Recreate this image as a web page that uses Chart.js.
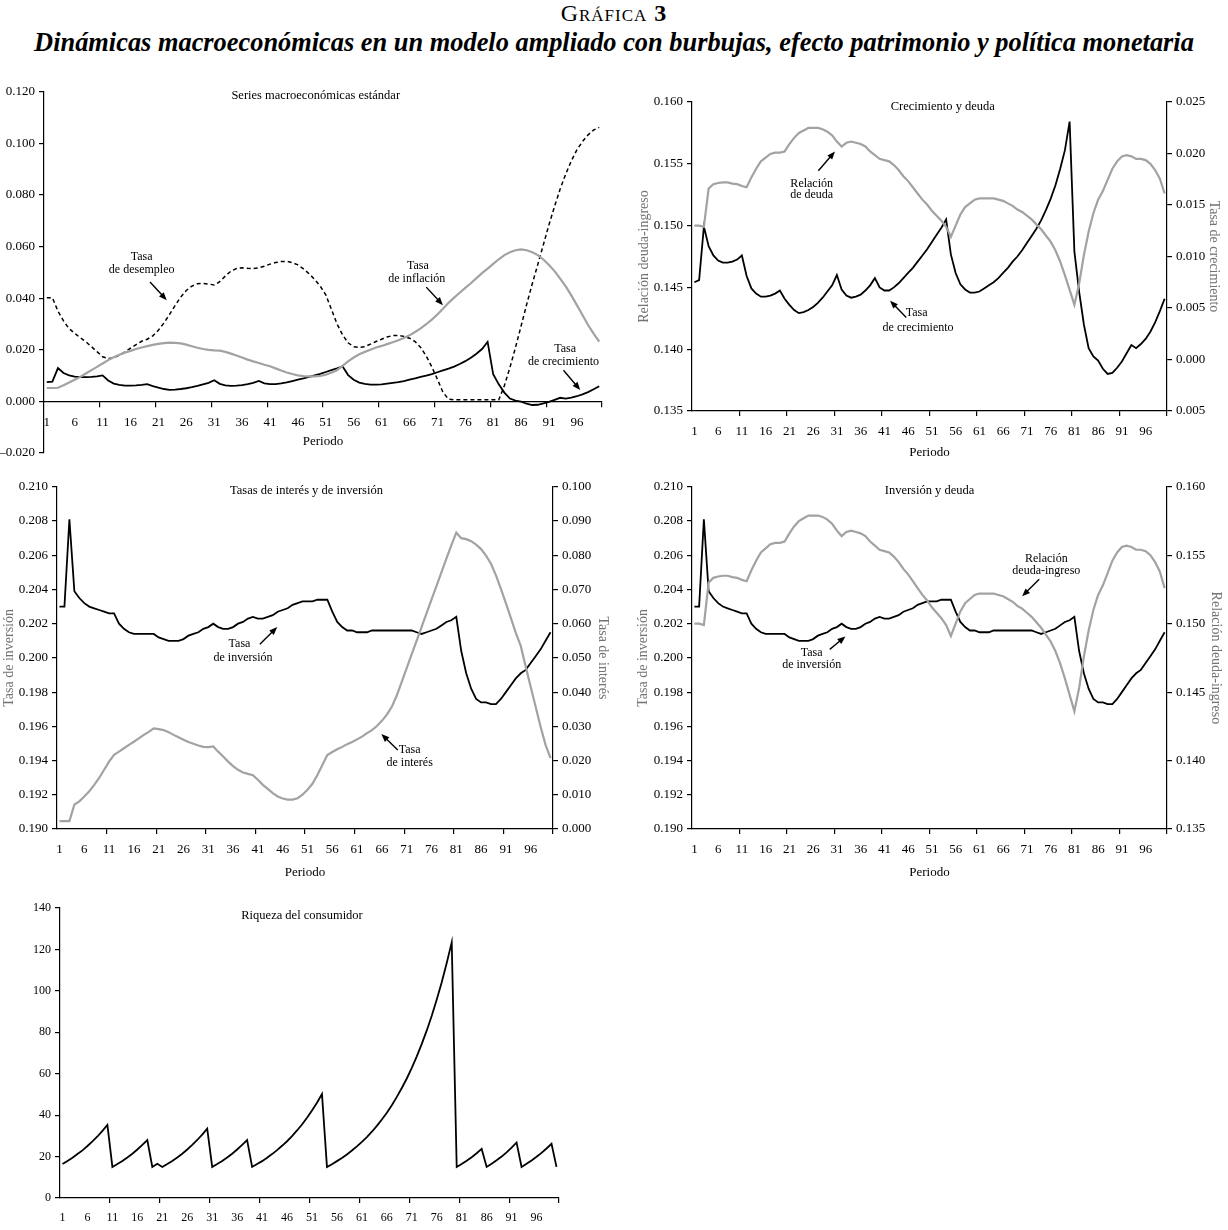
<!DOCTYPE html>
<html lang="es">
<head>
<meta charset="utf-8">
<title>Gráfica 3</title>
<script src="https://cdn.jsdelivr.net/npm/chart.js@4.4.1/dist/chart.umd.min.js"></script>
<style>
  body { margin: 0; background: #fff; }
  #page { position: relative; width: 1228px; height: 1230px; overflow: hidden; font-family: "Liberation Serif", serif; color: #000; }
  #page canvas { position: absolute; }
  #num { position: absolute; top: 0; left: 0; width: 1228px; text-align: center; font-size: 24px; line-height: 26px; font-variant: small-caps; letter-spacing: 1px; }
  #sub { position: absolute; top: 28px; left: 0; width: 1228px; text-align: center; font-size: 25px; line-height: 28px; font-style: italic; font-weight: bold; white-space: nowrap; }
</style>
</head>
<body>
<div id="page">
  <div id="num">Gráfica <b>3</b></div>
  <div id="sub"><span id="subText">Dinámicas macroeconómicas en un modelo ampliado con burbujas, efecto patrimonio y política monetaria</span></div>
  <canvas id="c1" width="620" height="385" style="left:0;top:80px"></canvas>
  <canvas id="c2" width="598" height="375" style="left:630px;top:90px"></canvas>
  <canvas id="c3" width="620" height="410" style="left:0;top:475px"></canvas>
  <canvas id="c4" width="598" height="410" style="left:630px;top:475px"></canvas>
  <canvas id="c5" width="600" height="335" style="left:0;top:895px"></canvas>
</div>
<script>
// periods 1..100, labels every 5, tick marks every 10 bands
const periods = Array.from({length: 100}, (_, i) => i + 1);
const xTickLabels = [1, 6, 11, 16, 21, 26, 31, 36, 41, 46, 51, 56, 61, 66, 71, 76, 81, 86, 91, 96];
const xTickMarks = [10.5, 20.5, 30.5, 40.5, 50.5, 60.5, 70.5, 80.5, 90.5, 100.5];

// y tick values
const macroTicks = [-0.02, 0, 0.02, 0.04, 0.06, 0.08, 0.10, 0.12];
const debtTicks = [0.135, 0.140, 0.145, 0.150, 0.155, 0.160];
const growthTicks = [-0.005, 0, 0.005, 0.010, 0.015, 0.020, 0.025];
const invTicks = [0.190, 0.192, 0.194, 0.196, 0.198, 0.200, 0.202, 0.204, 0.206, 0.208, 0.210];
const interestTicks = [0, 0.01, 0.02, 0.03, 0.04, 0.05, 0.06, 0.07, 0.08, 0.09, 0.10];
const wealthTicks = [0, 20, 40, 60, 80, 100, 120, 140];

// series
const unemployment = [
  0.0402, 0.0402, 0.0350, 0.0312, 0.0282, 0.0264, 0.0247, 0.0231, 0.0212, 0.0193,
  0.0173, 0.0166, 0.0169, 0.0179, 0.0192, 0.0206, 0.0220, 0.0233, 0.0241, 0.0254,
  0.0276, 0.0304, 0.0337, 0.0372, 0.0404, 0.0430, 0.0447, 0.0456, 0.0457, 0.0455,
  0.0451, 0.0464, 0.0486, 0.0505, 0.0515, 0.0518, 0.0516, 0.0515, 0.0518, 0.0524,
  0.0532, 0.0538, 0.0542, 0.0543, 0.0538, 0.0529, 0.0514, 0.0495, 0.0473, 0.0447,
  0.0413, 0.0357, 0.0301, 0.0258, 0.0227, 0.0212, 0.0209, 0.0212, 0.0222, 0.0232,
  0.0241, 0.0250, 0.0255, 0.0256, 0.0252, 0.0245, 0.0232, 0.0209, 0.0176, 0.0134,
  0.0086, 0.0035, 0.0009, 0.0006, 0.0006, 0.0006, 0.0006, 0.0006, 0.0006, 0.0006,
  0.0006, 0.0006, 0.0061, 0.0131, 0.0209, 0.0292, 0.0376, 0.0456, 0.0531, 0.0608,
  0.0685, 0.0756, 0.0823, 0.0881, 0.0932, 0.0975, 0.1007, 0.1033, 0.1052, 0.1062
];
const inflation = [
  0.0052, 0.0052, 0.0053, 0.0063, 0.0073, 0.0084, 0.0095, 0.0108, 0.0121, 0.0134,
  0.0147, 0.0160, 0.0171, 0.0181, 0.0189, 0.0196, 0.0203, 0.0209, 0.0214, 0.0219,
  0.0223, 0.0226, 0.0228, 0.0227, 0.0225, 0.0220, 0.0214, 0.0208, 0.0203, 0.0200,
  0.0198, 0.0197, 0.0192, 0.0185, 0.0178, 0.0170, 0.0162, 0.0155, 0.0149, 0.0142,
  0.0136, 0.0128, 0.0120, 0.0112, 0.0106, 0.0101, 0.0098, 0.0097, 0.0097, 0.0099,
  0.0104, 0.0111, 0.0121, 0.0138, 0.0155, 0.0170, 0.0183, 0.0192, 0.0200, 0.0209,
  0.0215, 0.0222, 0.0229, 0.0237, 0.0246, 0.0256, 0.0269, 0.0283, 0.0299, 0.0317,
  0.0337, 0.0359, 0.0382, 0.0402, 0.0421, 0.0440, 0.0458, 0.0478, 0.0497, 0.0515,
  0.0533, 0.0551, 0.0567, 0.0578, 0.0586, 0.0589, 0.0586, 0.0578, 0.0567, 0.0550,
  0.0529, 0.0505, 0.0476, 0.0446, 0.0411, 0.0373, 0.0335, 0.0296, 0.0263, 0.0232
];
const growth = [
  0.0075, 0.0077, 0.0129, 0.0110, 0.0101, 0.0096, 0.0094, 0.0094, 0.0095, 0.0097,
  0.0101, 0.0081, 0.0069, 0.0064, 0.0061, 0.0061, 0.0062, 0.0064, 0.0067, 0.0059,
  0.0053, 0.0048, 0.0045, 0.0046, 0.0048, 0.0051, 0.0055, 0.0060, 0.0066, 0.0072,
  0.0082, 0.0068, 0.0062, 0.0060, 0.0061, 0.0063, 0.0067, 0.0072, 0.0079, 0.0070,
  0.0067, 0.0067, 0.0070, 0.0074, 0.0079, 0.0084, 0.0089, 0.0095, 0.0101, 0.0107,
  0.0114, 0.0121, 0.0128, 0.0136, 0.0102, 0.0084, 0.0073, 0.0068, 0.0065, 0.0065,
  0.0066, 0.0069, 0.0072, 0.0075, 0.0079, 0.0084, 0.0089, 0.0095, 0.0100, 0.0106,
  0.0113, 0.0120, 0.0127, 0.0135, 0.0145, 0.0156, 0.0169, 0.0185, 0.0203, 0.0231,
  0.0105, 0.0066, 0.0034, 0.0011, 0.0003, -0.0001, -0.0009, -0.0014, -0.0013, -0.0008,
  -0.0002, 0.0006, 0.0014, 0.0011, 0.0015, 0.0020, 0.0027, 0.0036, 0.0047, 0.0059
];
const debtRatio = [
  0.1500, 0.1500, 0.1499, 0.1530, 0.15335, 0.15345, 0.1535, 0.1535, 0.1534, 0.15335,
  0.1532, 0.1531, 0.1539, 0.1546, 0.1552, 0.1555, 0.1558, 0.1559, 0.1559, 0.1560,
  0.1566, 0.1571, 0.1575, 0.1577, 0.1579, 0.1579, 0.1579, 0.1578, 0.1576, 0.1573,
  0.1568, 0.1564, 0.1567, 0.1568, 0.1567, 0.1566, 0.1564, 0.1560, 0.1557, 0.1554,
  0.1553, 0.1552, 0.1549, 0.1545, 0.1540, 0.1536, 0.1531, 0.1526, 0.1521, 0.1517,
  0.1512, 0.1508, 0.1504, 0.1499, 0.1491, 0.1500, 0.1509, 0.1515, 0.1518, 0.1521,
  0.1522, 0.1522, 0.1522, 0.1522, 0.1521, 0.1520, 0.1518, 0.1516, 0.1513, 0.1511,
  0.1508, 0.1505, 0.1501, 0.1497, 0.1492, 0.1487, 0.1480, 0.1471, 0.1460, 0.1448,
  0.1436, 0.1453, 0.1476, 0.1495, 0.1510, 0.1521, 0.1528, 0.1537, 0.1546, 0.1552,
  0.1556, 0.1557, 0.1556, 0.1554, 0.1554, 0.1553, 0.1550, 0.1545, 0.1538, 0.1526
];
const investment = [
  0.2030, 0.2030, 0.2081, 0.2039, 0.2035, 0.2032, 0.2030, 0.2029, 0.2028, 0.2027,
  0.2026, 0.2026, 0.2020, 0.2017, 0.2015, 0.2014, 0.2014, 0.2014, 0.2014, 0.2014,
  0.2012, 0.2011, 0.2010, 0.2010, 0.2010, 0.2011, 0.2013, 0.2014, 0.2015, 0.2017,
  0.2018, 0.2020, 0.2018, 0.2017, 0.2017, 0.2018, 0.2020, 0.2021, 0.2023, 0.2024,
  0.2023, 0.2023, 0.2024, 0.2025, 0.2027, 0.2028, 0.2029, 0.2031, 0.2032, 0.2033,
  0.2033, 0.2033, 0.2034, 0.2034, 0.2034, 0.2027, 0.2021, 0.2018, 0.2016, 0.2016,
  0.2015, 0.2015, 0.2015, 0.2016, 0.2016, 0.2016, 0.2016, 0.2016, 0.2016, 0.2016,
  0.2016, 0.2016, 0.2015, 0.2014, 0.2015, 0.2016, 0.2017, 0.2019, 0.2021, 0.2022,
  0.2024, 0.2004, 0.1991, 0.1982, 0.1976, 0.1974, 0.1974, 0.1973, 0.1973, 0.1976,
  0.1980, 0.1984, 0.1988, 0.1991, 0.1993, 0.1997, 0.2001, 0.2005, 0.2010, 0.2015
];
const interest = [
  0.0023, 0.0023, 0.0023, 0.0071, 0.0081, 0.0095, 0.0110, 0.0129, 0.0149, 0.0173,
  0.0197, 0.0217, 0.0226, 0.0236, 0.0246, 0.0255, 0.0265, 0.0275, 0.0284, 0.0294,
  0.0292, 0.0289, 0.0283, 0.0275, 0.0268, 0.0261, 0.0254, 0.0249, 0.0244, 0.0240,
  0.0239, 0.0241, 0.0226, 0.0212, 0.0197, 0.0184, 0.0173, 0.0165, 0.0161, 0.0157,
  0.0144, 0.0129, 0.0117, 0.0105, 0.0095, 0.0089, 0.0086, 0.0086, 0.0090, 0.0100,
  0.0115, 0.0132, 0.0158, 0.0187, 0.0216, 0.0225, 0.0233, 0.0240, 0.0248, 0.0254,
  0.0262, 0.0270, 0.0280, 0.0289, 0.0301, 0.0316, 0.0334, 0.0357, 0.0390, 0.0430,
  0.0470, 0.0510, 0.0550, 0.0590, 0.0630, 0.0670, 0.0710, 0.0750, 0.0790, 0.0829,
  0.0866, 0.0850, 0.0847, 0.0841, 0.0831, 0.0818, 0.0799, 0.0775, 0.0741, 0.0702,
  0.0660, 0.0617, 0.0573, 0.0535, 0.0474, 0.0416, 0.0357, 0.0299, 0.0246, 0.0207
];
const wealth = [
  16.4, 17.9, 19.4, 21.2, 23.0, 25.1, 27.3, 29.7, 32.4, 35.3,
  15.0, 16.4, 17.9, 19.6, 21.4, 23.4, 25.6, 28.0, 15.0, 16.5,
  15.0, 16.4, 17.9, 19.6, 21.4, 23.4, 25.6, 28.0, 30.6, 33.5,
  15.0, 16.4, 17.9, 19.6, 21.4, 23.4, 25.6, 28.0, 15.0, 16.4,
  17.8, 19.4, 21.2, 23.1, 25.2, 27.4, 29.9, 32.6, 35.5, 38.7,
  42.2, 46.0, 50.2, 15.0, 16.3, 17.8, 19.3, 21.0, 22.9, 24.9,
  27.1, 29.4, 32.0, 34.8, 37.9, 41.2, 44.8, 48.8, 53.1, 57.7,
  62.8, 68.4, 74.4, 80.9, 88.0, 95.8, 104.2, 113.4, 123.4, 15.0,
  16.4, 18.0, 19.7, 21.6, 23.7, 15.0, 16.5, 18.2, 20.0, 22.0,
  24.3, 26.8, 15.0, 16.5, 18.1, 19.9, 21.8, 23.9, 26.2, 15.0
];

const FONT = '"Liberation Serif", serif';
const BLACK = '#000000';
const GRAY = '#a2a2a2';
const AXIS_TITLE = '#737373';

// fit the long subtitle to the printed width
(function () {
  const span = document.getElementById('subText');
  const w = span.getBoundingClientRect().width;
  document.getElementById('sub').style.fontSize = (25 * 1160 / w).toFixed(2) + 'px';
})();

function fmt3(v) { return v < 0 ? '\u2013' + Math.abs(v).toFixed(3) : v.toFixed(3); }
function fmtAbs3(v) { return Math.abs(v).toFixed(3); }
function fmtInt(v) { return String(v); }

function xAxis(height, title, size, extra) {
  return Object.assign({
    type: 'linear', axis: 'x', position: 'bottom', min: 0.5, max: 100.5,
    afterBuildTicks: s => {
      s.ticks = xTickLabels.concat(xTickMarks).sort((a, b) => a - b).map(v => ({value: v}));
    },
    afterFit: s => { s.height = height; },
    ticks: {
      autoSkip: false, maxRotation: 0, minRotation: 0, padding: 8, color: BLACK,
      font: {family: FONT, size: size || 13},
      callback: v => xTickLabels.includes(v) ? String(v) : ''
    },
    grid: {
      drawOnChartArea: false, tickLength: 5, lineWidth: 1.2,
      color: c => (c.tick && xTickMarks.includes(c.tick.value)) ? BLACK : 'rgba(0,0,0,0)'
    },
    border: {color: BLACK, width: 1.2},
    title: title
      ? {display: true, text: title, color: BLACK, font: {family: FONT, size: 13}, padding: {top: 2, bottom: 5}}
      : {display: false}
  }, extra || {});
}

function yAxis(pos, width, ticksArr, fmt, size) {
  return {
    type: 'linear', position: pos,
    min: ticksArr[0], max: ticksArr[ticksArr.length - 1],
    afterBuildTicks: s => { s.ticks = ticksArr.map(v => ({value: v})); },
    afterFit: s => { s.width = width; },
    ticks: {color: BLACK, padding: 4, font: {family: FONT, size: size || 13}, callback: fmt},
    grid: {drawOnChartArea: false, tickLength: 5, lineWidth: 1.2, color: BLACK},
    border: {color: BLACK, width: 1.2}
  };
}

function line(data, color, width, axis, dash) {
  return {
    data: data, yAxisID: axis || 'y', borderColor: color, borderWidth: width,
    borderDash: dash || [], pointRadius: 0, tension: 0, fill: false
  };
}

// panel titles, arrow notes and side titles, placed in data units
const notes = {
  c1: {
    title: {t: 'Series macroeconómicas estándar', x: 49.2, y: 0.1185},
    texts: [
      {t: 'Tasa', x: 18.0, y: 0.0560}, {t: 'de desempleo', x: 18.0, y: 0.0508},
      {t: 'Tasa', x: 67.5, y: 0.0527}, {t: 'de inflación', x: 67.3, y: 0.0476},
      {t: 'Tasa', x: 93.9, y: 0.0205}, {t: 'de crecimiento', x: 93.6, y: 0.0153}
    ],
    arrows: [
      {x1: 19.5, y1: 0.0463, x2: 22.5, y2: 0.0392},
      {x1: 69.0, y1: 0.0443, x2: 72.0, y2: 0.0373},
      {x1: 93.6, y1: 0.0121, x2: 96.6, y2: 0.0044}
    ],
    side: []
  },
  c2: {
    title: {t: 'Crecimiento y deuda', x: 53.3, y: 0.15964},
    texts: [
      {t: 'Relación', x: 25.7, y: 0.15336}, {t: 'de deuda', x: 25.7, y: 0.15249},
      {t: 'Tasa', x: 47.8, y: 0.14291}, {t: 'de crecimiento', x: 48.1, y: 0.14175}
    ],
    arrows: [
      {x1: 27.1, y1: 0.15444, x2: 30.6, y2: 0.15600},
      {x1: 45.6, y1: 0.14256, x2: 42.2, y2: 0.14393}
    ],
    side: [{t: 'Relación deuda-ingreso', side: 'left', d: 48}, {t: 'Tasa de crecimiento', side: 'right', d: 47}]
  },
  c3: {
    title: {t: 'Tasas de interés y de inversión', x: 50.8, y: 0.20977},
    texts: [
      {t: 'Tasa', x: 37.3, y: 0.20080}, {t: 'de inversión', x: 38.0, y: 0.20000},
      {t: 'Tasa', x: 71.6, y: 0.19462}, {t: 'de interés', x: 71.6, y: 0.19385}
    ],
    arrows: [
      {x1: 41.4, y1: 0.20080, x2: 44.9, y2: 0.20180},
      {x1: 69.2, y1: 0.19462, x2: 65.9, y2: 0.19555}
    ],
    side: [{t: 'Tasa de inversión', side: 'left', d: 48}, {t: 'Tasa de interés', side: 'right', d: 50}]
  },
  c4: {
    title: {t: 'Inversión y deuda', x: 50.5, y: 0.20977},
    texts: [
      {t: 'Relación', x: 75.1, y: 0.20580}, {t: 'deuda-ingreso', x: 75.1, y: 0.20510},
      {t: 'Tasa', x: 25.7, y: 0.20030}, {t: 'de inversión', x: 25.7, y: 0.19960}
    ],
    arrows: [
      {x1: 73.6, y1: 0.20460, x2: 70.0, y2: 0.20360},
      {x1: 29.5, y1: 0.20050, x2: 32.8, y2: 0.20125}
    ],
    side: [{t: 'Tasa de inversión', side: 'left', d: 49}, {t: 'Relación deuda-ingreso', side: 'right', d: 49}]
  },
  c5: {
    title: {t: 'Riqueza del consumidor', x: 49.0, y: 136.5},
    texts: [], arrows: [], side: []
  }
};

function drawArrow(ctx, x1, y1, x2, y2) {
  const ang = Math.atan2(y2 - y1, x2 - x1);
  const L = 8, W = 3.2;
  ctx.beginPath();
  ctx.moveTo(x1, y1);
  ctx.lineTo(x2 - (L - 2) * Math.cos(ang), y2 - (L - 2) * Math.sin(ang));
  ctx.lineWidth = 1.4;
  ctx.stroke();
  ctx.beginPath();
  ctx.moveTo(x2, y2);
  ctx.lineTo(x2 - L * Math.cos(ang) + W * Math.sin(ang), y2 - L * Math.sin(ang) - W * Math.cos(ang));
  ctx.lineTo(x2 - L * Math.cos(ang) - W * Math.sin(ang), y2 - L * Math.sin(ang) + W * Math.cos(ang));
  ctx.closePath();
  ctx.fill();
}

const notesPlugin = {
  id: 'notes',
  afterDraw(chart) {
    const n = notes[chart.canvas.id];
    if (!n) return;
    const ctx = chart.ctx, xs = chart.scales.x, ys = chart.scales.y, area = chart.chartArea;
    const px = v => xs.getPixelForValue(v), py = v => ys.getPixelForValue(v);
    ctx.save();
    ctx.fillStyle = BLACK;
    ctx.strokeStyle = BLACK;
    ctx.textAlign = 'center';
    ctx.textBaseline = 'middle';
    ctx.font = '12.5px ' + FONT;
    ctx.fillText(n.title.t, px(n.title.x), py(n.title.y));
    ctx.font = '12px ' + FONT;
    n.texts.forEach(t => ctx.fillText(t.t, px(t.x), py(t.y)));
    n.arrows.forEach(a => drawArrow(ctx, px(a.x1), py(a.y1), px(a.x2), py(a.y2)));
    ctx.fillStyle = AXIS_TITLE;
    ctx.font = '14px ' + FONT;
    n.side.forEach(s => {
      const cy = (area.top + area.bottom) / 2;
      ctx.save();
      if (s.side === 'left') {
        ctx.translate(area.left - s.d, cy);
        ctx.rotate(-Math.PI / 2);
      } else {
        ctx.translate(area.right + s.d, cy);
        ctx.rotate(Math.PI / 2);
      }
      ctx.fillText(s.t, 0, 0);
      ctx.restore();
    });
    ctx.restore();
  }
};

function baseOptions(padding, scales) {
  return {
    responsive: false, animation: false, events: [],
    layout: {padding: padding},
    plugins: {legend: {display: false}, tooltip: {enabled: false}},
    scales: scales
  };
}

// 1. standard macro series
new Chart(document.getElementById('c1'), {
  type: 'line',
  data: {
    labels: periods,
    datasets: [
      line(inflation, GRAY, 2.2),
      line(unemployment, BLACK, 1.5, 'y', [4, 3]),
      line(growth, BLACK, 1.8)
    ]
  },
  options: baseOptions({top: 11, right: 18, bottom: 12, left: 0}, {
    x: xAxis(53, 'Periodo', 13, {position: {y: 0}}),
    y: yAxis('left', 44, macroTicks, fmt3)
  }),
  plugins: [notesPlugin]
});

// 2. growth and debt
new Chart(document.getElementById('c2'), {
  type: 'line',
  data: {
    labels: periods,
    datasets: [
      line(debtRatio, GRAY, 2.2, 'y'),
      line(growth, BLACK, 1.8, 'y1')
    ]
  },
  options: baseOptions({top: 12, right: 0, bottom: 0, left: 0}, {
    x: xAxis(54, 'Periodo'),
    y: yAxis('left', 62, debtTicks, fmt3),
    y1: yAxis('right', 61, growthTicks, fmtAbs3)
  }),
  plugins: [notesPlugin]
});

// 3. interest and investment
new Chart(document.getElementById('c3'), {
  type: 'line',
  data: {
    labels: periods,
    datasets: [
      line(interest, GRAY, 2.2, 'y1'),
      line(investment, BLACK, 1.8, 'y')
    ]
  },
  options: baseOptions({top: 11, right: 0, bottom: 0, left: 0}, {
    x: xAxis(56, 'Periodo'),
    y: yAxis('left', 57, invTicks, fmt3),
    y1: yAxis('right', 67, interestTicks, fmt3)
  }),
  plugins: [notesPlugin]
});

// 4. investment and debt
new Chart(document.getElementById('c4'), {
  type: 'line',
  data: {
    labels: periods,
    datasets: [
      line(debtRatio, GRAY, 2.2, 'y1'),
      line(investment, BLACK, 1.8, 'y')
    ]
  },
  options: baseOptions({top: 11, right: 0, bottom: 0, left: 0}, {
    x: xAxis(56, 'Periodo'),
    y: yAxis('left', 62, invTicks, fmt3),
    y1: yAxis('right', 61, debtTicks, fmt3)
  }),
  plugins: [notesPlugin]
});

// 5. consumer wealth
new Chart(document.getElementById('c5'), {
  type: 'line',
  data: {
    labels: periods,
    datasets: [line(wealth, BLACK, 1.8)]
  },
  options: baseOptions({top: 13, right: 41, bottom: 0, left: 0}, {
    x: xAxis(32, null, 12),
    y: yAxis('left', 60, wealthTicks, fmtInt, 12)
  }),
  plugins: [notesPlugin]
});
</script>
</body>
</html>
